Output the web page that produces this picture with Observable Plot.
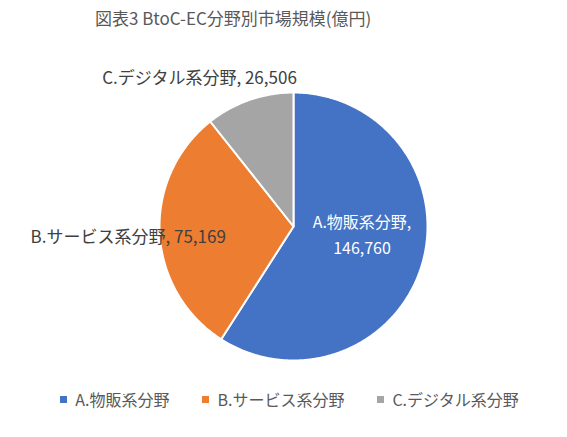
<!DOCTYPE html>
<html>
<head>
<meta charset="utf-8">
<script src="https://cdn.jsdelivr.net/npm/d3@7"></script>
<script src="https://cdn.jsdelivr.net/npm/@observablehq/plot@0.6"></script>
<style>
  html, body { margin: 0; padding: 0; background: #fff; }
  #wrap { position: relative; width: 567px; height: 437px; overflow: hidden;
          font-family: "Noto Sans CJK JP", "Noto Sans", sans-serif; }
  #title { position: absolute; left: 95px; top: 5px; font-size: 17px; color: #595959; white-space: nowrap; }
  #chart { position: absolute; left: 0; top: 0; }
  #legend { position: absolute; left: 0; width: 567px; top: 387px; display: flex; justify-content: center;
            gap: 33px; font-size: 16px; color: #595959; padding-left: 12px; box-sizing: border-box; }
  .item { display: flex; align-items: center; white-space: nowrap; }
  .sw { width: 7px; height: 7px; margin-right: 8px; display: inline-block; }
</style>
</head>
<body>
<div id="wrap">
  <div id="chart"></div>
  <div id="title"></div>
  <div id="legend"></div>
</div>
<script>
// ---- data ----
const titleText = "図表3 BtoC-EC分野別市場規模(億円)";
const categories = ["A.物販系分野", "B.サービス系分野", "C.デジタル系分野"];
const values = [146760, 75169, 26506];
const colors = ["#4472C4", "#ED7D31", "#A5A5A5"];

// ---- layout ----
const W = 567, H = 437;
const cx = 293, cy = 226, R = 134;
// label placement: fraction of radius along mid-angle, pixel nudges, anchor, color, separator, size
const labelLayout = [
  {k: 0.525, dx: 1, dy: -14, anchor: "middle", fill: "white", sep: ",\n", size: 16},
  {k: 0.505, dx: 0, dy: 4, anchor: "end", fill: "#404040", sep: ", ", size: 17},
  {k: 1.18, dx: -42, dy: -2, anchor: "middle", fill: "#404040", sep: ", ", size: 17}
];

document.getElementById("title").textContent = titleText;

const fmt = d3.format(",");
const arcs = d3.pie().sort(null).value(d => d)(values);

function arcRing(a0, a1) {
  const pts = [[0, 0]];
  const n = Math.max(2, Math.ceil((a1 - a0) / (Math.PI / 360)));
  for (let i = 0; i <= n; i++) {
    const a = a0 + (a1 - a0) * i / n;
    pts.push([R * Math.sin(a), -R * Math.cos(a)]);
  }
  pts.push([0, 0]);
  return pts;
}

const slices = arcs.map((a, i) => ({
  type: "Feature",
  properties: {name: categories[i]},
  geometry: {type: "Polygon", coordinates: [arcRing(a.startAngle, a.endAngle)]}
}));

const labels = arcs.map((a, i) => {
  const m = (a.startAngle + a.endAngle) / 2;
  const L = labelLayout[i];
  return {
    x: L.k * R * Math.sin(m),
    y: -L.k * R * Math.cos(m),
    text: categories[i] + L.sep + fmt(values[i]),
    ...L
  };
});

const chart = Plot.plot({
  width: W, height: H,
  margin: 0,
  projection: () => d3.geoIdentity().translate([cx, cy]),
  color: {domain: categories, range: colors},
  style: {fontFamily: '"Noto Sans CJK JP", "Noto Sans", sans-serif', background: "white"},
  marks: [
    Plot.geo(slices, {fill: d => d.properties.name, stroke: "white", strokeWidth: 2, strokeLinejoin: "round"}),
    ...labels.map(l => Plot.text([l], {
      x: "x", y: "y", text: "text",
      dx: l.dx, dy: l.dy,
      textAnchor: l.anchor, fill: l.fill,
      fontSize: l.size, lineHeight: 1.62
    }))
  ]
});
document.getElementById("chart").appendChild(chart);

const legend = document.getElementById("legend");
categories.forEach((c, i) => {
  const it = document.createElement("div");
  it.className = "item";
  const sw = document.createElement("span");
  sw.className = "sw";
  sw.style.background = colors[i];
  it.appendChild(sw);
  it.appendChild(document.createTextNode(c));
  legend.appendChild(it);
});
</script>
</body>
</html>
